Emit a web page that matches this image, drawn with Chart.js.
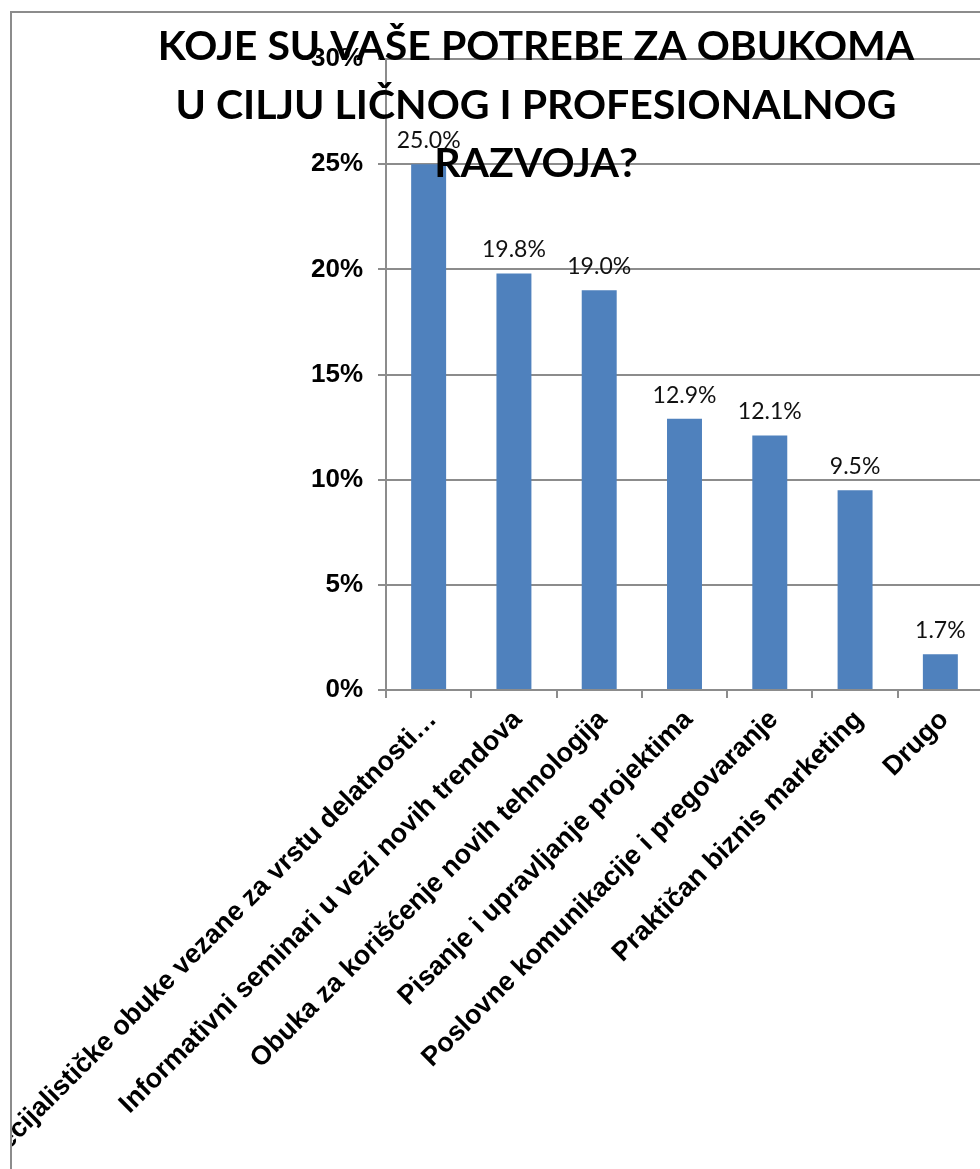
<!DOCTYPE html>
<html>
<head>
<meta charset="utf-8">
<script src="https://cdn.jsdelivr.net/npm/chart.js@4.4.0/dist/chart.umd.min.js"></script>
<style>
  html, body { margin: 0; padding: 0; background: #fff; overflow: hidden; }
  #frame {
    position: absolute; left: 10px; top: 11px;
    width: 1000px; height: 1200px;
    border-left: 2px solid #8c8c8c; border-top: 2px solid #8c8c8c;
  }
  #wrap { position: absolute; left: 12px; top: 13px; width: 971px; height: 1156px; }
</style>
</head>
<body>
<div id="frame"></div>
<div id="wrap"><canvas id="obuke"></canvas></div>
<script>
const categories = [
  "Specijalističke obuke vezane za vrstu delatnosti…",
  "Informativni seminari u vezi novih trendova",
  "Obuka za korišćenje novih tehnologija",
  "Pisanje i upravljanje projektima",
  "Poslovne komunikacije i pregovaranje",
  "Praktičan biznis marketing",
  "Drugo"
];
const shares = [25.0, 19.8, 19.0, 12.9, 12.1, 9.5, 1.7];
const yTicks = [0, 5, 10, 15, 20, 25, 30];
const titleLines = [
  "KOJE SU VAŠE POTREBE ZA OBUKOMA",
  "U CILJU LIČNOG I PROFESIONALNOG",
  "RAZVOJA?"
];

const axisGray = "#8c8c8c";

// value labels above each bar
const barLabels = {
  id: "barLabels",
  afterDatasetsDraw(chart) {
    const { ctx } = chart;
    const meta = chart.getDatasetMeta(0);
    ctx.save();
    ctx.font = "23px Lato";
    ctx.fillStyle = "#111";
    ctx.textAlign = "center";
    ctx.textBaseline = "bottom";
    meta.data.forEach((bar, i) => {
      ctx.fillText(shares[i].toFixed(1) + "%", bar.x, bar.y - 12);
    });
    ctx.restore();
  }
};

// big title, painted over the plot
const overTitle = {
  id: "overTitle",
  afterDraw(chart) {
    const { ctx } = chart;
    ctx.save();
    ctx.font = "bold 41px Lato";
    ctx.fillStyle = "#000";
    ctx.textAlign = "center";
    ctx.textBaseline = "alphabetic";
    titleLines.forEach((line, i) => {
      ctx.fillText(line, 524, 47 + i * 58.5);
    });
    ctx.restore();
  }
};

new Chart(document.getElementById("obuke").getContext("2d"), {
  type: "bar",
  data: {
    labels: categories,
    datasets: [{
      data: shares,
      backgroundColor: "#4f81bd",
      borderWidth: 0,
      barPercentage: 0.41,
      categoryPercentage: 1.0
    }]
  },
  options: {
    responsive: true,
    maintainAspectRatio: false,
    animation: false,
    layout: { padding: { top: 46, right: 0, left: 0, bottom: 0 } },
    plugins: {
      legend: { display: false },
      title: { display: false },
      tooltip: { enabled: false }
    },
    scales: {
      x: {
        grid: {
          offset: true,
          drawOnChartArea: false,
          drawTicks: true,
          tickLength: 8,
          color: axisGray,
          lineWidth: 2
        },
        border: { color: axisGray, width: 2 },
        ticks: {
          autoSkip: false,
          minRotation: 45,
          maxRotation: 45,
          padding: 6,
          labelOffset: 4,
          color: "#000",
          font: { family: "Liberation Sans", weight: "bold", size: 27 }
        },
        // long rotated labels may run off the left edge; keep the plot where it is
        afterFit(axis) {
          axis.height = 479;
          axis.paddingLeft = 0;
          axis.paddingRight = 0;
        }
      },
      y: {
        min: 0,
        max: 30,
        afterBuildTicks(axis) { axis.ticks = yTicks.map(v => ({ value: v })); },
        grid: {
          color: axisGray,
          lineWidth: 2,
          tickLength: 8
        },
        border: { color: axisGray, width: 2 },
        ticks: {
          padding: 15,
          color: "#000",
          font: { family: "Liberation Sans", weight: "bold", size: 26 },
          callback: v => v + "%"
        },
        afterFit(axis) {
          axis.width = 374;
          axis.paddingTop = 0;
          axis.paddingBottom = 0;
        }
      }
    }
  },
  plugins: [barLabels, overTitle]
});
</script>
</body>
</html>
